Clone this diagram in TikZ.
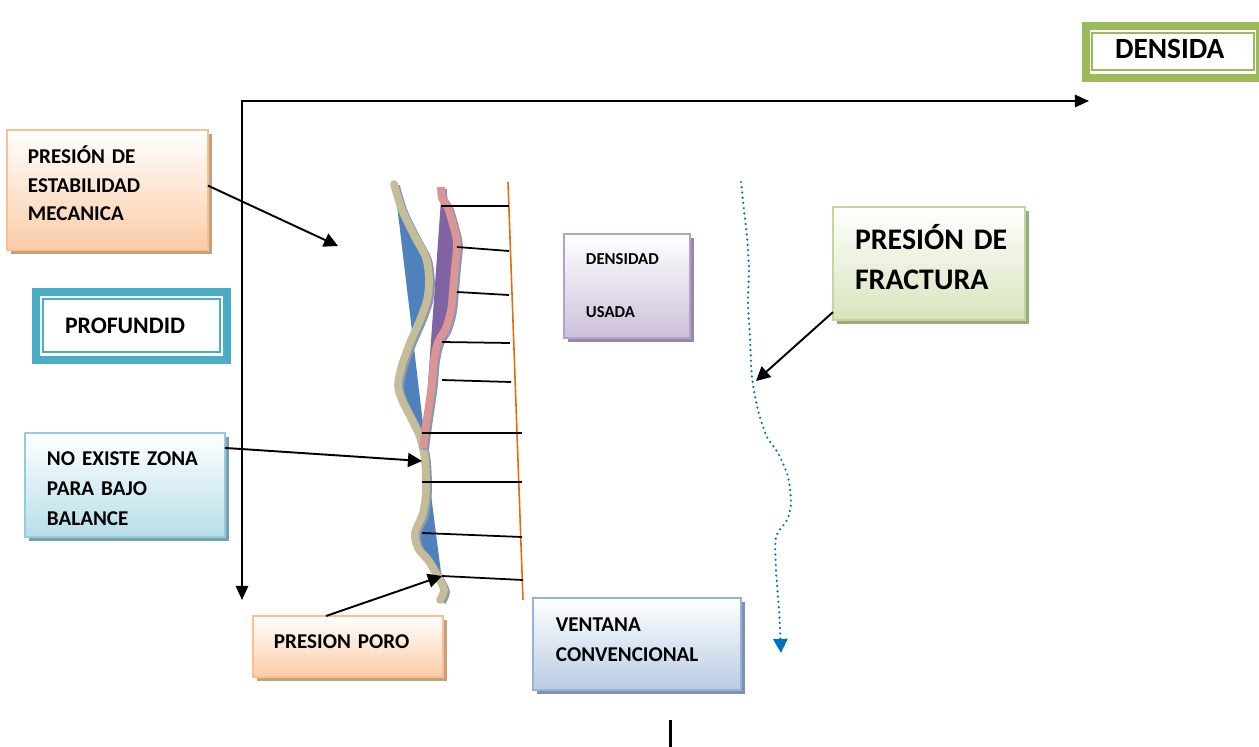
\documentclass[tikz,border=0pt]{standalone}
\usepackage{fontspec}
\setmainfont{Carlito}
\usetikzlibrary{arrows.meta,shadows}

\definecolor{orborder}{RGB}{250,192,144}
\definecolor{orbottom}{RGB}{251,204,166}
\definecolor{orshadow}{RGB}{196,160,124}
\definecolor{aqborder}{RGB}{147,205,221}
\definecolor{aqbottom}{RGB}{183,222,232}
\definecolor{aqshadow}{RGB}{122,160,172}
\definecolor{liborder}{RGB}{179,162,199}
\definecolor{libottom}{RGB}{204,192,218}
\definecolor{lishadow}{RGB}{150,136,170}
\definecolor{skborder}{RGB}{149,179,215}
\definecolor{skbottom}{RGB}{184,204,228}
\definecolor{skshadow}{RGB}{125,145,178}
\definecolor{lgborder}{RGB}{195,214,155}
\definecolor{lgbottom}{RGB}{215,228,189}
\definecolor{lgshadow}{RGB}{155,170,125}
\definecolor{profblue}{RGB}{75,172,198}
\definecolor{densgreen}{RGB}{155,187,89}
\definecolor{wallblue}{RGB}{79,129,189}
\definecolor{wallpurple}{RGB}{128,100,162}
\definecolor{pinkline}{RGB}{217,150,148}
\definecolor{tanline}{RGB}{196,189,151}
\definecolor{lineshadow}{RGB}{140,152,178}
\definecolor{gradline}{RGB}{228,108,10}
\definecolor{fracblue}{RGB}{0,112,192}

\begin{document}
\begin{tikzpicture}[x=0.02cm,y=-0.02cm,
    shadebox/.style n args={3}{draw=#1, top color=white, bottom color=#2, line width=1.1pt,
        drop shadow={shadow xshift=2.3pt, shadow yshift=-2.3pt, fill=#3, opacity=1},
        anchor=north west, align=left, outer sep=0pt, text height=7.5pt},
    dbox/.style={draw=#1, line width=4.27pt, align=left, outer sep=0pt,
        text width=2.32cm, inner xsep=0.585cm, minimum height=1.05cm},
    pointer/.style={line width=1.1pt, -{Triangle[length=8pt,width=8pt]}},
    axisline/.style={line width=1.1pt, {Triangle[length=8pt,width=7pt]}-{Triangle[length=8pt,width=7pt]}},
    stripe/.style={line width=4.4pt},
    tick/.style={line width=1pt}]
    \useasboundingbox (0,0) rectangle (1259,747);

    % Axes
    \coordinate (origin) at (242,101);
    \coordinate (xend) at (1089,101);
    \coordinate (yend) at (242,600);
    \draw[axisline] (xend) -- (origin) -- (yend);

    % Double framed labels
    \node[dbox=densgreen, font=\fontsize{16.7}{20}\selectfont\bfseries, text height=10.5pt, text depth=3.4pt]
        (dens) at (1173,52) {DENSIDA};
    \draw[densgreen, line width=1.1pt] ([shift={(6,7)}]dens.north west) rectangle ([shift={(-6.5,-8)}]dens.south east);
    \node[dbox=profblue, text width=2.66cm, minimum height=1.37cm, font=\fontsize{13.5}{16}\selectfont\bfseries,
        text height=8.5pt, text depth=0pt] (prof) at (131.5,326) {PROFUNDID};
    \draw[profblue, line width=1.1pt] ([shift={(7,7.25)}]prof.north west) rectangle ([shift={(-7.5,-8.25)}]prof.south east);

    % Shaded labels
    \node[shadebox={orborder}{orbottom}{orshadow}, minimum width=4.02cm, minimum height=2.4cm,
        text width=3.18cm, inner xsep=0.42cm, font=\fontsize{12}{16.2}\selectfont\bfseries, text depth=37.5pt]
        (est) at (7,130) {PRESIÓN DE\\ESTABILIDAD\\MECANICA};
    \node[shadebox={aqborder}{aqbottom}{aqshadow}, minimum width=4cm, minimum height=2.08cm,
        text width=3.12cm, inner xsep=0.44cm, font=\fontsize{12}{17}\selectfont\bfseries, text depth=29.8pt]
        (noz) at (25,433) {NO EXISTE ZONA\\PARA BAJO\\BALANCE};
    \node[shadebox={orborder}{orbottom}{orshadow}, minimum width=3.8cm, minimum height=1.22cm,
        text width=2.96cm, inner xsep=0.42cm, font=\fontsize{12}{17}\selectfont\bfseries, text depth=5.1pt]
        (poro) at (253,616) {PRESION PORO};
    \node[shadebox={liborder}{libottom}{lishadow}, minimum width=2.52cm, minimum height=2.08cm,
        text width=1.64cm, inner xsep=0.44cm, font=\fontsize{9.5}{30.4}\selectfont\bfseries,
        text height=6pt, text depth=31pt]
        (usada) at (564,234) {DENSIDAD\\USADA};
    \node[shadebox={skborder}{skbottom}{skshadow}, minimum width=4.16cm, minimum height=1.84cm,
        text width=3.24cm, inner xsep=0.46cm, font=\fontsize{12}{17.1}\selectfont\bfseries, text depth=21.7pt]
        (vent) at (533,598) {VENTANA\\CONVENCIONAL};
    \node[shadebox={lgborder}{lgbottom}{lgshadow}, minimum width=3.84cm, minimum height=2.26cm,
        text width=2.96cm, inner xsep=0.44cm, font=\fontsize{17}{22.8}\selectfont\bfseries,
        text height=10.7pt, text depth=26.8pt]
        (frac) at (833,207) {PRESIÓN~DE\\FRACTURA};

    % Wall fills
    \fill[wallblue] (395,188) -- (424,432) -- plot[smooth] coordinates {(420,432) (412,420) (402,400) (398,385) (402,365) (410,343) (420,320) (427,300) (429,280) (426,258) (415,237) (402,210) (394,184)} -- cycle;
    \fill[wallblue] (424,440) -- (444,596) -- plot[smooth] coordinates {(444,590) (438,577) (428,560) (418,548) (415,533) (423,513) (426,490) (425,460) (421,440)} -- cycle;
    \fill[wallpurple] (441,200) -- (424,440) -- plot[smooth] coordinates {(423,448) (426,425) (429,405) (432,383) (434,360) (438,342) (446,328) (451,310) (453,290) (455,267) (457,243) (453,225) (448,208) (442,198)} -- cycle;

    % Stripes
    \draw[stripe, lineshadow, shift={(2,2)}] plot[smooth] coordinates {(394,184) (402,210) (415,237) (426,258) (429,280) (427,300) (420,320) (410,343) (402,365) (398,385) (402,400) (412,420) (420,437) (425,460) (426,490) (423,513) (415,533) (418,548) (428,560) (438,577) (444,590) (440,600)};
    \draw[stripe, tanline, line cap=round] plot[smooth] coordinates {(394,184) (402,210) (415,237) (426,258) (429,280) (427,300) (420,320) (410,343) (402,365) (398,385) (402,400) (412,420) (420,437) (425,460) (426,490) (423,513) (415,533) (418,548) (428,560) (438,577) (444,590) (440,600)};
    \draw[stripe, lineshadow, shift={(2,2)}] plot[smooth] coordinates {(441,187) (442,198) (448,208) (453,225) (457,243) (455,267) (453,290) (451,310) (446,328) (438,342) (434,360) (432,383) (429,405) (426,425) (423,448)};
    \draw[stripe, pinkline] plot[smooth] coordinates {(441,187) (442,198) (448,208) (453,225) (457,243) (455,267) (453,290) (451,310) (446,328) (438,342) (434,360) (432,383) (429,405) (426,425) (423,448)};

    % Gradient line and ticks
    \draw[gradline, line width=0.9pt] (508,182) -- (523,600);
    \draw[tick] (441,206) -- (509,206);
    \draw[tick] (457,247) -- (509,251);
    \draw[tick] (457,292) -- (509,295);
    \draw[tick] (442,342) -- (510,343);
    \draw[tick] (442,380) -- (511,382);
    \draw[tick] (422,433) -- (522,433);
    \draw[tick] (422,482) -- (522,482);
    \draw[tick] (422,533) -- (522,537);
    \draw[tick] (442,576) -- (523,580);

    % Fracture curve
    \draw[fracblue, line width=1.4pt, dash pattern=on 0pt off 3pt, line cap=round, -{Triangle[length=8pt,width=8pt]}]
        plot[smooth] coordinates {(741,182) (744,210) (747,237) (749,270) (748,303) (750,337) (752,377) (758,410) (767,437) (778,453) (788,477) (791,503) (787,520) (776,537) (776,570) (779,610) (781,653)};

    % Pointers
    \coordinate (esttip) at (338,246);
    \coordinate (noztip) at (422,461);
    \coordinate (porotip) at (442,576);
    \coordinate (fractip) at (756,381);
    \draw[pointer] ([yshift=2.5pt]est.east) -- (esttip);
    \draw[pointer] ([yshift=-8.5pt]noz.north east) -- (noztip);
    \draw[pointer] ([xshift=-12.5pt]poro.north) -- (porotip);
    \draw[pointer] ([yshift=4.5pt]frac.south west) -- (fractip);

    % Bottom mark
    \coordinate (marktop) at (670.5,720);
    \coordinate (markbot) at (670.5,747);
    \draw[line width=1.3pt] (marktop) -- (markbot);
\end{tikzpicture}
\end{document}
